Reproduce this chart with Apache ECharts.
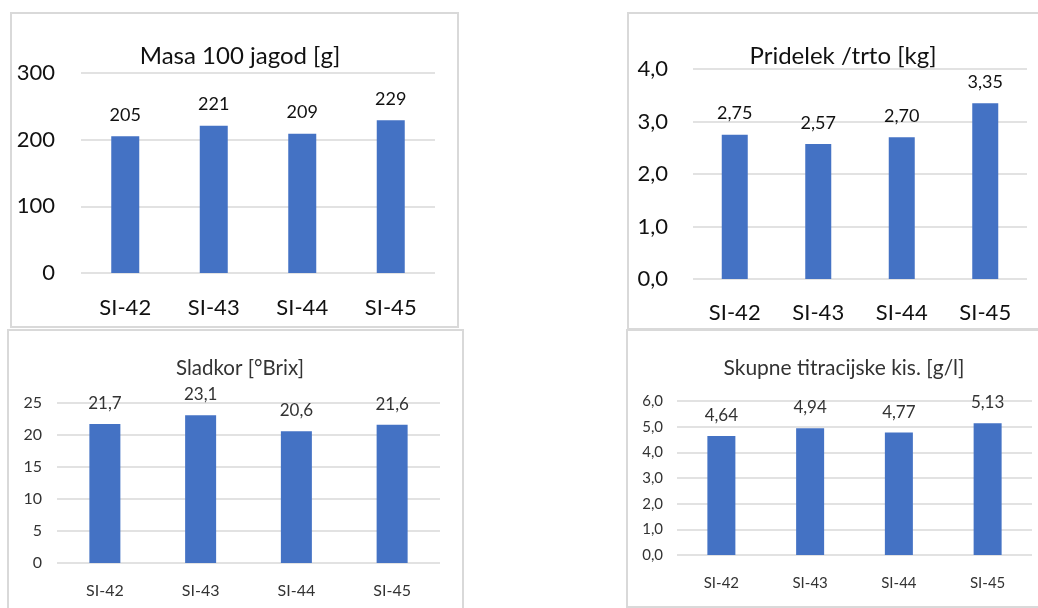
<!DOCTYPE html>
<html>
<head>
<meta charset="utf-8">
<script src="https://cdn.jsdelivr.net/npm/echarts@6/dist/echarts.min.js"></script>
<style>
  html, body { margin: 0; padding: 0; background: #ffffff; }
  #chart { width: 1038px; height: 608px; }
</style>
</head>
<body>
<div id="chart"></div>
<script>
// Varieties shown on every panel
const categories = ['SI-42', 'SI-43', 'SI-44', 'SI-45'];

// Panel values
const berryMass = [205, 221, 209, 229];          // Masa 100 jagod [g]
const yieldPerVine = [2.75, 2.57, 2.70, 3.35];   // Pridelek /trto [kg]
const sugar = [21.7, 23.1, 20.6, 21.6];          // Sladkor [°Brix]
const acidity = [4.64, 4.94, 4.77, 5.13];        // Skupne titracijske kis. [g/l]

// Panel titles
const titles = ['Masa 100 jagod [g]', 'Pridelek /trto [kg]', 'Sladkor [°Brix]', 'Skupne titracijske kis. [g/l]'];

// Value axis ranges: [min, max, interval]
const axisRanges = [[0, 300, 100], [0, 4, 1], [0, 25, 5], [0, 6, 1]];

const FONT = 'Lato, "Open Sans", sans-serif';
const BAR = '#4472C4';
const GRID_LINE = '#d9d9d9';

const comma = (v, d) => v.toFixed(d).replace('.', ',');

const panels = [
  { data: berryMass, grid: { left: 81, right: 603, top: 73, bottom: 335 }, axisDec: 0, labelDec: 0,
    axisFont: 22, catFont: 22, labelFont: 18, titleFont: 24, color: '#111111',
    barWidth: 28, yMargin: 26, xMargin: 24, title: [235, 51] },
  { data: yieldPerVine, grid: { left: 693, right: 11, top: 69, bottom: 329 }, axisDec: 1, labelDec: 2,
    axisFont: 22, catFont: 22, labelFont: 18, titleFont: 24, color: '#111111',
    barWidth: 26, yMargin: 25, xMargin: 23, title: [838, 51] },
  { data: sugar, grid: { left: 57, right: 598, top: 403, bottom: 45 }, axisDec: 0, labelDec: 1,
    axisFont: 16, catFont: 16, labelFont: 17, titleFont: 20.5, color: '#333333',
    barWidth: 31, yMargin: 15, xMargin: 20, title: [235, 363] },
  { data: acidity, grid: { left: 677, right: 6, top: 401, bottom: 53 }, axisDec: 1, labelDec: 2,
    axisFont: 15, catFont: 15, labelFont: 17, titleFont: 21, color: '#333333',
    barWidth: 28, yMargin: 14, xMargin: 21, title: [839, 363] }
];

const option = {
  backgroundColor: '#ffffff',
  animation: false,
  textStyle: { fontFamily: FONT },
  title: panels.map((p, i) => ({
    text: titles[i],
    left: p.title[0],
    top: p.title[1],
    textAlign: 'center',
    textVerticalAlign: 'middle',
    textStyle: { fontFamily: FONT, fontSize: p.titleFont, fontWeight: 'normal', color: p.color }
  })),
  grid: panels.map(p => Object.assign({ containLabel: false }, p.grid)),
  xAxis: panels.map((p, i) => ({
    type: 'category',
    gridIndex: i,
    data: categories,
    axisLine: { show: false },
    axisTick: { show: false },
    axisLabel: { margin: p.xMargin, fontSize: p.catFont, fontFamily: FONT, color: p.color }
  })),
  yAxis: panels.map((p, i) => ({
    type: 'value',
    gridIndex: i,
    min: axisRanges[i][0],
    max: axisRanges[i][1],
    interval: axisRanges[i][2],
    axisLine: { show: false },
    axisTick: { show: false },
    splitLine: { lineStyle: { color: GRID_LINE, width: 1.5 } },
    axisLabel: {
      margin: p.yMargin, fontSize: p.axisFont, fontFamily: FONT, color: p.color,
      formatter: v => comma(v, p.axisDec)
    }
  })),
  series: panels.map((p, i) => ({
    type: 'bar',
    xAxisIndex: i,
    yAxisIndex: i,
    data: p.data,
    barWidth: p.barWidth,
    itemStyle: { color: BAR },
    label: {
      show: true,
      position: 'top',
      distance: 12,
      fontFamily: FONT,
      fontSize: p.labelFont,
      color: p.color,
      formatter: d => comma(d.value, p.labelDec)
    }
  })),
  // Chart-area frames around each panel
  graphic: [
    { x: 11, y: 13, w: 447, h: 314 },
    { x: 628, y: 13, w: 420, h: 316 },
    { x: 8, y: 330, w: 455, h: 300 },
    { x: 627, y: 330, w: 420, h: 277 }
  ].map(r => ({
    type: 'rect',
    z: -10,
    shape: { x: r.x, y: r.y, width: r.w, height: r.h },
    style: { fill: 'none', stroke: GRID_LINE, lineWidth: 2 }
  }))
};

const chart = echarts.init(document.getElementById('chart'), null, { renderer: 'canvas' });
chart.setOption(option);
</script>
</body>
</html>
